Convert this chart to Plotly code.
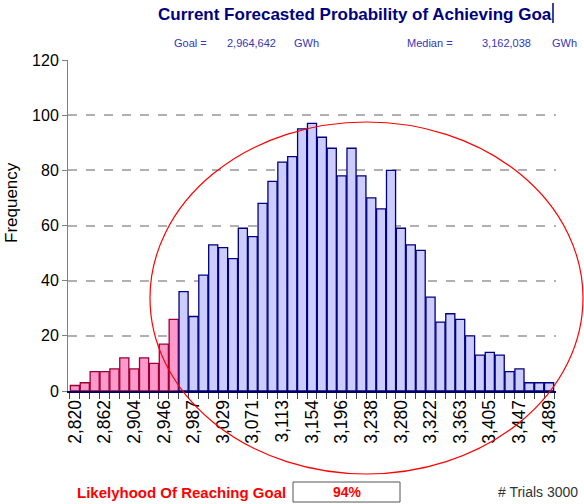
import plotly.graph_objects as go

# ---- data ----
tick_labels = ["2,820", "2,862", "2,904", "2,946", "2,987", "3,029", "3,071", "3,113",
               "3,154", "3,196", "3,238", "3,280", "3,322", "3,363", "3,405", "3,447", "3,489"]
below_goal_counts = [2, 3, 7, 7, 8, 12, 8, 12, 10, 17, 26]
above_goal_counts = [36, 27, 42, 53, 52, 48, 59, 56, 68, 76,
                     83, 85, 95, 97, 92, 88, 78, 88, 78, 70,
                     66, 80, 59, 53, 51, 34, 25, 28, 26, 20,
                     13, 14, 13, 7, 8, 3, 3, 3]
goal_value = "2,964,642"
median_value = "3,162,038"
likelihood = "94%"
trials = 3000

n_below = len(below_goal_counts)
n_bins = n_below + len(above_goal_counts)
x_below = list(range(n_below))
x_above = list(range(n_below, n_bins))

# ---- layout geometry (pixels) ----
W, H = 584, 504
ML, MR, MT, MB = 68, 28, 60, 113
PW = W - ML - MR
PH = H - MT - MB


def px(x):
    return (x - ML) / PW


def py(y):
    return (H - MB - y) / PH


FONT = "Liberation Sans, Arial, sans-serif"

fig = go.Figure()
fig.add_trace(go.Bar(x=x_below, y=below_goal_counts,
                     marker=dict(color="#FF99CC", line=dict(color="#990033", width=1.3)),
                     hoverinfo="y", showlegend=False))
fig.add_trace(go.Bar(x=x_above, y=above_goal_counts,
                     marker=dict(color="#CCCCFF", line=dict(color="#000080", width=1.3)),
                     hoverinfo="y", showlegend=False))

fig.update_layout(
    width=W, height=H,
    margin=dict(l=ML, r=MR, t=MT, b=MB, pad=0),
    paper_bgcolor="white", plot_bgcolor="white",
    bargap=0.08,
    font=dict(family=FONT, color="black"),
    xaxis=dict(range=[-0.7, n_bins - 0.3], tickmode="array",
               tickvals=list(range(0, n_bins, 3)), ticktext=tick_labels,
               tickangle=-90, tickfont=dict(size=17.5, color="black"),
               ticks="", showgrid=False, zeroline=False,
               showline=True, linecolor="#000060", linewidth=2,
               minor=dict(ticks="outside", tickmode="linear", tick0=0.5, dtick=1,
                          ticklen=6, tickcolor="#444444", tickwidth=1, showgrid=False)),
    yaxis=dict(range=[0, 120], tickmode="linear", tick0=0, dtick=20,
               tickfont=dict(size=16, color="black"),
               ticks="outside", ticklen=5, tickcolor="#808080",
               showline=True, linecolor="#808080", linewidth=1,
               showgrid=True, gridcolor="#B0B0B0", griddash="dash", gridwidth=1.5,
               zeroline=False),
)

ann = []
ann.append(dict(text="Current Forecasted Probability of Achieving Goa",
                x=px(355), y=py(14), xref="paper", yref="paper",
                xanchor="center", yanchor="middle", showarrow=False,
                font=dict(size=17, color="#000080", family=FONT, weight="bold")))
sub_color = "#3535B8"
for txt, xpos in [("Goal =", 172), (goal_value, 225), ("GWh", 292),
                  ("Median =", 405), (median_value, 480), ("GWh", 550)]:
    ann.append(dict(text=txt, x=px(xpos), y=py(43), xref="paper", yref="paper",
                    xanchor="left", yanchor="middle", showarrow=False,
                    font=dict(size=11, color=sub_color, family=FONT)))
ann.append(dict(text="Frequency", x=px(12), y=py(203), xref="paper", yref="paper",
                xanchor="center", yanchor="middle", showarrow=False, textangle=-90,
                font=dict(size=17, color="black", family=FONT)))
ann.append(dict(text="Likelyhood Of Reaching Goal", x=px(75), y=py(492),
                xref="paper", yref="paper", xanchor="left", yanchor="middle",
                showarrow=False, font=dict(size=15, color="#FF0000", family=FONT, weight="bold")))
ann.append(dict(text=likelihood, x=px(347), y=py(492), xref="paper", yref="paper",
                xanchor="center", yanchor="middle", showarrow=False,
                font=dict(size=14, color="#FF0000", family=FONT, weight="bold")))
ann.append(dict(text=f"# Trials {trials}", x=px(496), y=py(492), xref="paper", yref="paper",
                xanchor="left", yanchor="middle", showarrow=False,
                font=dict(size=14, color="#333333", family=FONT)))
fig.update_layout(annotations=ann)

shapes = [
    dict(type="rect", xref="paper", yref="paper", x0=px(293), x1=px(400),
         y0=py(502), y1=py(482), line=dict(color="#555555", width=1)),
    dict(type="circle", xref="paper", yref="paper", x0=px(150), x1=px(583),
         y0=py(474), y1=py(122), line=dict(color="#FF0000", width=1.2)),
    dict(type="line", xref="paper", yref="paper", x0=px(553), x1=px(553),
         y0=py(23), y1=py(3), line=dict(color="#000080", width=1.5)),
]
fig.update_layout(shapes=shapes)

fig.write_html("out.html", config={"displayModeBar": False},
               post_script="document.body.style.margin='0';document.body.style.overflow='hidden';")
